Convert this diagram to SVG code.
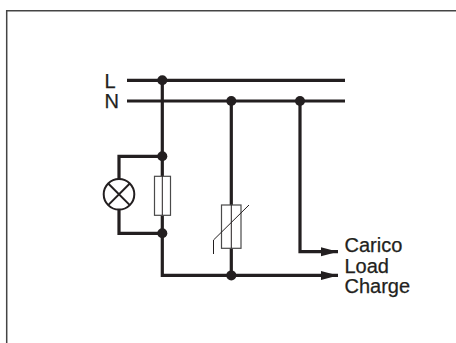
<svg xmlns="http://www.w3.org/2000/svg" width="456" height="343" viewBox="0 0 456 343">
<style>
.w{fill:none;stroke:#231f20;stroke-width:3.2}
.t{fill:none;stroke:#231f20;stroke-width:1}
.b{fill:#fff;stroke:#4a4a4a;stroke-width:1.2}
.d{fill:#231f20}
text{font-family:"Liberation Sans",Arial,sans-serif;font-size:20px;fill:#231f20;stroke:#231f20;stroke-width:.25px}
</style>
<defs><marker id="a" markerUnits="userSpaceOnUse" markerWidth="18" markerHeight="10" refX="17" refY="5" orient="auto"><path d="M0 .5L17 5L0 9.500z" fill="#231f20"/></marker></defs>
<path d="M6.700 343V10.700H456" fill="none" stroke="#444" stroke-width="1.500"/>
<g id="connectors">
<path class="w" d="M127 80.300H345"/>
<path class="w" d="M127 101H345"/>
<path class="w" d="M162.300 80V156"/>
<path class="w" d="M162.300 233V275.400H338" marker-end="url(#a)"/>
<path class="w" d="M231.300 101V205"/>
<path class="w" d="M231.300 248V275"/>
<path class="w" d="M300 101V251.700H338" marker-end="url(#a)"/>
<path class="w" d="M162 156.300H119V179"/>
<path class="w" d="M119 210V233.300H162"/>
<path class="w" d="M162.300 156V176"/>
<path class="w" d="M162.300 215V233"/>
</g>
<g id="node-L-junction"><circle class="d" cx="162.300" cy="80.300" r="5"/></g>
<g id="node-N-junction-1"><circle class="d" cx="231.300" cy="101" r="5"/></g>
<g id="node-N-junction-2"><circle class="d" cx="300" cy="101" r="5"/></g>
<g id="node-top-junction"><circle class="d" cx="162.300" cy="156.300" r="5"/></g>
<g id="node-bottom-junction"><circle class="d" cx="162.300" cy="233.300" r="5"/></g>
<g id="node-load-junction"><circle class="d" cx="231.300" cy="275.400" r="5"/></g>
<g id="lamp"><circle cx="119" cy="194.300" r="15.300" fill="#fff" stroke="#231f20" stroke-width="2"/><path d="M108.200 183.500L129.800 205.100M129.800 183.500L108.200 205.100" fill="none" stroke="#231f20" stroke-width="2"/></g>
<g id="fuse"><rect class="b" x="154.500" y="176.300" width="16" height="39"/><path class="t" d="M162.300 176V215"/></g>
<g id="varistor"><rect class="b" x="221.500" y="205" width="19.500" height="43.300"/><path class="t" d="M231.300 205V248"/><path class="t" d="M249 205L213.500 240V254"/></g>
<g id="labels">
<text x="104.500" y="87.700">L</text>
<text x="104.500" y="108">N</text>
<text x="344.500" y="252">Carico</text>
<text x="344.500" y="272.500">Load</text>
<text x="344.500" y="292.700">Charge</text>
</g>
</svg>
